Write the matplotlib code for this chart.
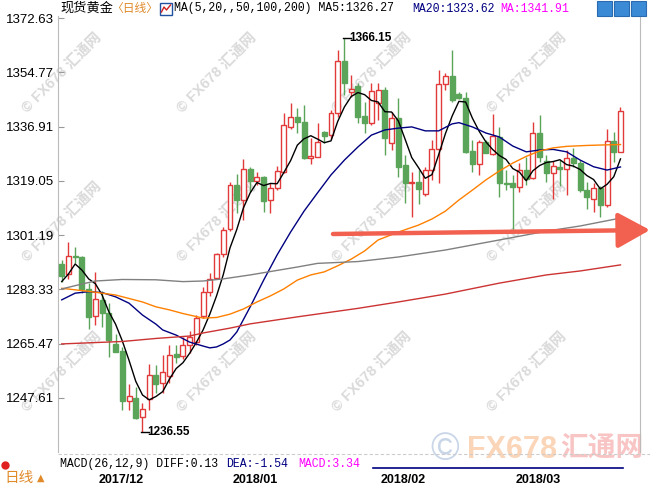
import matplotlib
matplotlib.use("Agg")
import matplotlib.pyplot as plt
import numpy as np
from matplotlib.patches import Rectangle

plt.rcParams["font.family"] = ["Liberation Sans", "Noto Sans CJK SC"]

# daily spot gold (2017-11-24 .. 2018-03-23)
opens = [1291.6, 1288.4, 1294.4, 1294.1, 1283.4, 1274.6, 1279.9, 1275.7, 1265.4, 1263.1,
         1246.7, 1247.6, 1241.3, 1247.2, 1255.1, 1252.4, 1254.7, 1262.1, 1261.3, 1265.0,
         1265.9, 1274.6, 1282.6, 1287.2, 1294.9, 1303.2, 1317.7, 1312.8, 1323.0, 1319.1,
         1320.4, 1312.8, 1316.6, 1322.1, 1336.7, 1340.0, 1338.3, 1326.7, 1327.0, 1335.2,
         1334.1, 1341.5, 1358.5, 1348.2, 1350.3, 1340.4, 1338.2, 1344.8, 1348.9, 1331.4,
         1339.6, 1324.3, 1318.2, 1318.7, 1314.7, 1322.5, 1329.4, 1350.9, 1353.5, 1347.6,
         1346.2, 1328.9, 1324.5, 1331.9, 1327.8, 1333.6, 1318.4, 1318.2, 1316.9, 1322.6,
         1319.9, 1334.7, 1325.6, 1321.7, 1323.7, 1322.9, 1326.7, 1324.9, 1316.0, 1313.0,
         1316.7, 1311.1, 1332.0, 1328.7]
highs = [1293.0, 1298.8, 1297.2, 1294.3, 1285.3, 1289.1, 1282.9, 1279.0, 1268.7, 1264.3,
         1252.2, 1251.1, 1246.1, 1258.8, 1258.6, 1261.7, 1265.0, 1265.0, 1267.8, 1269.7,
         1274.9, 1284.1, 1288.6, 1295.4, 1304.0, 1318.8, 1321.3, 1326.1, 1323.5, 1322.1,
         1320.7, 1318.2, 1323.9, 1341.3, 1344.6, 1342.9, 1344.0, 1333.1, 1338.0, 1335.6,
         1342.3, 1362.1, 1366.15, 1353.9, 1351.1, 1345.1, 1351.1, 1351.1, 1350.0, 1341.8,
         1346.2, 1327.6, 1322.1, 1322.6, 1323.7, 1332.5, 1355.5, 1354.4, 1362.1, 1348.4,
         1348.2, 1332.5, 1332.5, 1332.5, 1341.0, 1336.7, 1322.6, 1321.0, 1324.8, 1327.0,
         1338.5, 1340.7, 1327.6, 1325.6, 1325.9, 1329.2, 1329.8, 1325.9, 1318.7, 1318.3,
         1317.4, 1336.1, 1335.2, 1343.2]
lows = [1285.9, 1286.9, 1291.9, 1282.1, 1270.4, 1271.6, 1271.1, 1261.0, 1262.6, 1243.7,
        1243.7, 1240.6, 1236.55, 1243.7, 1249.2, 1249.2, 1252.4, 1259.0, 1260.3, 1262.4,
        1265.0, 1273.9, 1281.2, 1286.7, 1293.9, 1302.6, 1308.5, 1306.2, 1315.5, 1317.7,
        1308.9, 1308.4, 1316.0, 1321.5, 1336.0, 1334.7, 1326.1, 1324.5, 1327.0, 1331.4,
        1332.8, 1340.0, 1347.3, 1346.7, 1338.0, 1334.7, 1337.4, 1339.1, 1327.6, 1329.2,
        1320.4, 1311.7, 1307.3, 1311.4, 1314.1, 1319.3, 1318.2, 1348.8, 1345.1, 1346.0,
        1328.2, 1322.1, 1321.0, 1328.1, 1327.6, 1313.8, 1316.0, 1302.6, 1315.5, 1317.7,
        1319.7, 1325.3, 1318.7, 1313.0, 1317.2, 1314.4, 1323.7, 1315.5, 1309.8, 1308.8,
        1307.3, 1310.5, 1325.3, 1328.4]
closes = [1287.8, 1294.3, 1293.9, 1283.4, 1274.4, 1280.1, 1275.7, 1266.7, 1262.8, 1246.7,
          1248.3, 1241.1, 1243.9, 1255.1, 1252.2, 1256.1, 1261.9, 1261.2, 1265.0, 1267.7,
          1273.8, 1282.6, 1286.9, 1294.9, 1302.9, 1317.7, 1312.8, 1322.9, 1319.1, 1320.2,
          1312.4, 1316.6, 1322.3, 1337.4, 1340.0, 1338.3, 1326.5, 1327.2, 1331.9, 1333.9,
          1341.3, 1358.5, 1351.1, 1349.2, 1340.2, 1338.2, 1348.7, 1348.9, 1333.2, 1339.6,
          1323.7, 1318.2, 1318.8, 1316.5, 1322.6, 1329.4, 1350.9, 1353.5, 1345.7, 1346.2,
          1328.6, 1324.5, 1331.9, 1328.3, 1333.8, 1318.2, 1318.0, 1316.9, 1322.6, 1319.6,
          1334.7, 1326.9, 1321.7, 1323.9, 1322.9, 1326.5, 1324.8, 1315.9, 1313.7, 1316.6,
          1311.1, 1332.0, 1328.6, 1341.91]

# moving averages as drawn on the chart
ma5 = [1285.9, 1288.4, 1291.7, 1289.7, 1286.8, 1285.2, 1281.5, 1276.0, 1271.9, 1266.4,
       1260.0, 1253.1, 1248.6, 1247.0, 1248.1, 1249.7, 1253.8, 1257.3, 1259.2, 1262.3,
       1265.9, 1270.0, 1275.2, 1281.2, 1288.2, 1297.0, 1303.0, 1310.2, 1315.1, 1318.5,
       1317.5, 1318.2, 1318.1, 1321.8, 1325.7, 1330.8, 1332.9, 1333.9, 1332.8, 1331.6,
       1332.2, 1338.6, 1343.4, 1346.8, 1348.1, 1347.4, 1345.5, 1345.0, 1341.8, 1341.7,
       1338.8, 1332.8, 1326.7, 1323.4, 1319.9, 1321.1, 1327.7, 1334.6, 1340.4, 1345.2,
       1345.0, 1339.7, 1335.4, 1331.9, 1329.4, 1327.4, 1326.1, 1323.1, 1321.9, 1319.1,
       1322.4, 1324.1, 1325.1, 1325.4, 1326.0, 1324.4, 1323.9, 1322.8, 1320.8, 1319.5,
       1316.4, 1317.9, 1320.4, 1326.27]
ma20_idx = [0, 2, 4, 6, 8, 10, 12, 14, 15, 17, 19, 21, 22, 23, 24, 25, 26, 28, 30, 32,
            34, 36, 38, 40, 42, 44, 46, 48, 50, 52, 54, 56, 58, 59, 61, 63, 65, 67, 69, 71,
            73, 75, 77, 79, 81, 83]
ma20 = [1279.9, 1282.1, 1282.6, 1282.3, 1280.9, 1278.8, 1274.9, 1271.9, 1270.0, 1268.3,
        1266.0, 1264.7, 1264.1, 1264.4, 1265.4, 1266.7, 1269.3, 1277.6, 1286.4, 1294.7,
        1302.2, 1309.1, 1315.1, 1321.0, 1325.9, 1330.2, 1334.1, 1335.8, 1336.4, 1336.8,
        1335.5, 1335.5, 1337.8, 1338.2, 1336.8, 1334.8, 1333.5, 1330.5, 1328.6, 1329.2,
        1329.4, 1328.6, 1325.9, 1323.7, 1322.6, 1323.62]
ma50_idx = [0, 4, 8, 12, 14, 16, 18, 21, 23, 25, 27, 29, 31, 33, 35, 37, 39, 41, 43, 45,
            47, 50, 53, 55, 57, 59, 61, 63, 65, 67, 69, 71, 73, 75, 78, 81, 83]
ma50 = [1283.7, 1282.7, 1281.5, 1279.2, 1277.6, 1276.6, 1275.4, 1273.9, 1274.1, 1275.2,
        1276.9, 1279.2, 1281.2, 1283.5, 1286.4, 1288.1, 1289.1, 1291.1, 1293.3, 1296.0,
        1299.6, 1302.2, 1304.5, 1306.5, 1309.1, 1312.75, 1316.0, 1319.35, 1322.3, 1324.9,
        1327.1, 1328.9, 1329.9, 1330.4, 1330.7, 1330.9, 1331.0]
ma100_idx = [0, 3, 5, 9, 14, 18, 21, 24, 28, 35, 38, 44, 50, 57, 65, 72, 77, 83]
ma100 = [1283.5, 1285.1, 1286.1, 1286.6, 1286.5, 1285.9, 1286.1, 1286.8, 1288.1, 1290.7,
         1291.9, 1292.5, 1294.0, 1296.3, 1299.6, 1302.5, 1304.2, 1306.8]
ma200_idx = [0, 9, 14, 19, 21, 25, 28, 35, 44, 50, 57, 65, 72, 77, 83]
ma200 = [1265.4, 1266.2, 1267.2, 1268.0, 1269.0, 1270.6, 1272.0, 1274.3, 1277.1, 1279.2,
         1281.8, 1285.4, 1288.1, 1289.4, 1291.4]

yticks = [1247.61, 1265.47, 1283.33, 1301.19, 1319.05, 1336.91, 1354.77, 1372.63]
months = ["2017/12", "2018/01", "2018/02", "2018/03"]
month_start = [5, 25, 47, 67]

W, H = 650, 487
RED = "#e2393a"
GREEN = "#5ba55b"

fig = plt.figure(figsize=(6.5, 4.87), dpi=100)

# pixel-space layers behind and in front of the price panel
bg = fig.add_axes([0, 0, 1, 1], zorder=0)
bg.set_xlim(0, W); bg.set_ylim(H, 0); bg.axis("off")
fg = fig.add_axes([0, 0, 1, 1], zorder=3)
fg.set_xlim(0, W); fg.set_ylim(H, 0); fg.axis("off")

ax = fig.add_axes([58 / W, 1 - 452 / H, 582 / W, 436 / H], zorder=2)
ax.patch.set_alpha(0)

# watermarks
for cy in [73, 222, 372]:
    for cx in [62, 217, 372, 527]:
        bg.text(cx, cy, "© FX678 汇通网", rotation=45, ha="center", va="center",
                fontsize=10.5, fontweight="bold", color="#dadada")
bg.text(445, 450, "©", fontsize=28, color="#c9d6e8", ha="center", va="center")
bg.text(467, 450, "FX678", fontsize=22, fontweight="bold", color="#fbd5b8", va="center")
bg.text(560, 450, "汇通网", fontsize=20, fontweight="bold", color="#f8c4c4", va="center")

o = np.array(opens); h = np.array(highs); l = np.array(lows); c = np.array(closes)
x = np.arange(len(c))
up = c >= o
col = np.where(up, RED, GREEN)
ax.vlines(x, l, h, colors=col, lw=1, zorder=2)
ax.bar(x, np.maximum(np.abs(c - o), 0.3), bottom=np.minimum(o, c), width=0.74,
       color=np.where(up, "white", GREEN), edgecolor=col, lw=1, zorder=3)

ax.plot(x, ma5, color="black", lw=1, zorder=4)
ax.plot(ma20_idx, ma20, color="#000080", lw=1, zorder=4)
ax.plot(ma50_idx, ma50, color="#ff8000", lw=1, zorder=4)
ax.plot(ma100_idx, ma100, color="#808080", lw=1, zorder=4)
ax.plot(ma200_idx, ma200, color="#cc3333", lw=1, zorder=4)

# high / low markers
ax.plot([41.8, 43.0], [max(highs)] * 2, color="black", lw=1, zorder=5)
ax.text(42.7, max(highs), "1366.15", fontsize=8.5, fontweight="bold", va="center", zorder=5)
ax.plot([11.8, 13.0], [min(lows)] * 2, color="black", lw=1, zorder=5)
ax.text(12.7, min(lows), "1236.55", fontsize=8.5, fontweight="bold", va="center", zorder=5)

ax.set_xlim(-0.55, 85.9)
ax.set_ylim(1229.84, 1373.29)
ax.set_yticks(yticks)
ax.set_yticklabels([f"{v:.2f}" for v in yticks], fontsize=9.5)
ax.tick_params(axis="y", direction="in", length=4, color="#999999", pad=3)
ax.set_xticks([])
for s in ["top", "bottom"]:
    ax.spines[s].set_visible(False)
ax.spines["left"].set_color("#bbbbbb")
ax.spines["right"].set_color("#bbbbbb")

# month labels under the panel
for m, i in zip(months, month_start):
    fx_ = (58 + (i + 0.55) * 582 / 86.45 + 3) / W
    fig.text(fx_, 1 - 480 / H, m, fontsize=9, fontweight="bold", va="center", ha="left")

# arrow
fg.annotate("", xy=(650, 230), xytext=(333, 234),
            arrowprops=dict(arrowstyle="-|>,head_length=1.0,head_width=0.55",
                            color="#f2604f", lw=3.2, shrinkA=0, shrinkB=0,
                            mutation_scale=20))

# title row
fg.text(60, 8.5, "现货黄金", fontsize=9.5, va="center", family="Noto Sans CJK SC")
fg.text(111, 8.5, "〈日线〉", fontsize=8.5, va="center", color="#e08a2a", family="Noto Sans CJK SC")
fg.add_patch(Rectangle((160, 2.5), 12, 12, facecolor="white", edgecolor="#2050a0", lw=1))
fg.plot([161.5, 164, 166.5, 170.5], [12, 7, 10, 5], color="#d02020", lw=1)
fg.text(174, 8.5, "MA(5,20,,50,100,200) MA5:1326.27", fontsize=8.3, va="center",
        family="Liberation Mono")
fg.text(412, 8.5, "MA20:1323.62", fontsize=8.3, va="center", color="#000080",
        family="Liberation Mono")
fg.text(500, 8.5, "MA:1341.91", fontsize=8.3, va="center", color="#ff00ff",
        family="Liberation Mono")
for bx in [597, 614, 631]:
    fg.add_patch(Rectangle((bx, 1), 15, 15, facecolor="#3a8ad6", edgecolor="#2a6ab0", lw=0.8))

# MACD row
fg.text(60, 464, "MACD(26,12,9) DIFF:0.13", fontsize=8.3, va="center", family="Liberation Mono")
fg.text(226, 464, "DEA:-1.54", fontsize=8.3, va="center", color="#000080", family="Liberation Mono")
fg.text(298, 464, "MACD:3.34", fontsize=8.3, va="center", color="#ff00ff", family="Liberation Mono")
fg.plot([373, 623], [468, 468], color="#000080", lw=1.2)
fg.plot([58, 650], [454, 454], color="#cccccc", lw=0.8, ls=(0, (3, 2)))
fg.text(4, 478, "日线", fontsize=10.5, va="center", color="#e08a2a", family="Noto Sans CJK SC")
fg.text(37, 478, "▲", fontsize=7, va="center", color="#e08a2a", family="DejaVu Sans")
fg.plot([5], [465], marker="o", ms=5, mfc="#e02020", mec="#e02020")

fig.savefig("out.png", dpi=100)
